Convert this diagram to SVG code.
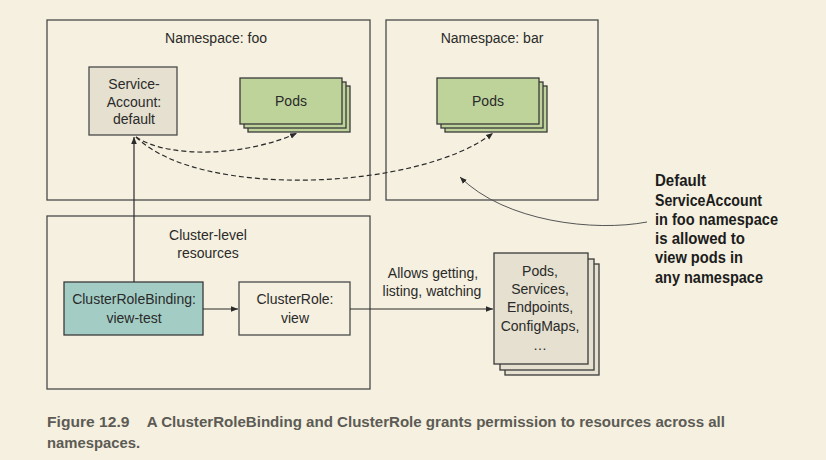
<svg xmlns="http://www.w3.org/2000/svg" width="826" height="460" viewBox="0 0 826 460">
<style>
  .bg { fill: #F5F0DF; }
  .frame { fill: none; stroke: #4a4a4a; stroke-width: 1.3; }
  .frame-fill { fill: #F5F0DF; stroke: #4a4a4a; stroke-width: 1.3; }
  .sa { fill: #E5E0CF; stroke: #4a4a4a; stroke-width: 1.3; }
  .pod { fill: #BDD39A; stroke: #3a3a3a; stroke-width: 1.3; }
  .res { fill: #E5E0CF; stroke: #3a3a3a; stroke-width: 1.3; }
  .crb { fill: #A3CDC4; stroke: #3a3a3a; stroke-width: 1.3; }
  .t { font-family: "Liberation Sans", Arial, sans-serif; font-size: 14px; fill: #2a2a2a; text-anchor: middle; }
  .ann { font-family: "Liberation Sans", Arial, sans-serif; font-size: 16px; font-weight: bold; fill: #1c1c1c; }
  .cap { font-family: "Liberation Sans", Arial, sans-serif; font-size: 14.5px; font-weight: bold; fill: #5c5b55; }
  .conn { fill: none; stroke: #2a2a2a; stroke-width: 1.2; }
  .dash { fill: none; stroke: #2a2a2a; stroke-width: 1.2; stroke-dasharray: 5 3; }
  .callout { fill: none; stroke: #555; stroke-width: 1; }
</style>
<defs>
  <marker id="ah" viewBox="0 0 10 10" refX="10" refY="5" markerWidth="7" markerHeight="7" markerUnits="userSpaceOnUse" orient="auto">
    <path d="M0,1 L10,5 L0,9 Z" fill="#2a2a2a"/>
  </marker>
</defs>
<rect class="bg" x="0" y="0" width="826" height="460"/>

<g id="ns-foo">
  <rect class="frame" x="47" y="20" width="323" height="180"/>
  <text class="t" x="216" y="43">Namespace: foo</text>
</g>
<g id="ns-bar">
  <rect class="frame" x="386" y="20" width="212" height="180"/>
  <text class="t" x="492" y="43">Namespace: bar</text>
</g>
<g id="cluster-level">
  <rect class="frame" x="47" y="216" width="323" height="173"/>
  <text class="t" x="208" y="240">Cluster-level</text>
  <text class="t" x="208" y="258">resources</text>
</g>

<g id="serviceaccount">
  <rect class="sa" x="89" y="67" width="88" height="68"/>
  <text class="t" x="134" y="89">Service-</text>
  <text class="t" x="134" y="107">Account:</text>
  <text class="t" x="134" y="124">default</text>
</g>

<g id="pods-foo">
  <rect class="pod" x="248" y="86" width="102" height="46"/>
  <rect class="pod" x="244" y="82" width="102" height="46"/>
  <rect class="pod" x="240" y="78" width="102" height="46"/>
  <text class="t" x="291" y="106">Pods</text>
</g>

<g id="pods-bar">
  <rect class="pod" x="445" y="86" width="102" height="46"/>
  <rect class="pod" x="441" y="82" width="102" height="46"/>
  <rect class="pod" x="437" y="78" width="102" height="46"/>
  <text class="t" x="488" y="106">Pods</text>
</g>

<g id="clusterrolebinding">
  <rect class="crb" x="64" y="282" width="139" height="53"/>
  <text class="t" x="134" y="304">ClusterRoleBinding:</text>
  <text class="t" x="134" y="323">view-test</text>
</g>

<g id="clusterrole">
  <rect class="frame-fill" x="239" y="282" width="111" height="53"/>
  <text class="t" x="295" y="304">ClusterRole:</text>
  <text class="t" x="295" y="323">view</text>
</g>

<g id="resources">
  <rect class="res" x="505" y="264" width="94" height="111"/>
  <rect class="res" x="500" y="259" width="94" height="111"/>
  <rect class="res" x="494" y="253" width="94" height="111"/>
  <text class="t" x="540" y="276">Pods,</text>
  <text class="t" x="540" y="294">Services,</text>
  <text class="t" x="540" y="312">Endpoints,</text>
  <text class="t" x="540" y="331">ConfigMaps,</text>
  <text class="t" x="540" y="350">…</text>
</g>

<g id="connectors">
  <path class="conn" d="M134,282 L134,137" marker-end="url(#ah)"/>
  <path class="conn" d="M203,309 L238,309" marker-end="url(#ah)"/>
  <path class="conn" d="M350,309 L493,309" marker-end="url(#ah)"/>
  <path class="dash" d="M136,137 C170,160 250,155 297,133" marker-end="url(#ah)"/>
  <path class="dash" d="M136,137 C200,200 420,190 493,133" marker-end="url(#ah)"/>
  <path class="callout" d="M647,222 C595,232 505,222 460,177" marker-end="url(#ah)"/>
  <text class="t" x="433" y="278">Allows getting,</text>
  <text class="t" x="432" y="296">listing, watching</text>
</g>

<g id="annotation">
  <text class="ann" x="655" y="186" textLength="51" lengthAdjust="spacingAndGlyphs">Default</text>
  <text class="ann" x="655" y="205.5" textLength="107" lengthAdjust="spacingAndGlyphs">ServiceAccount</text>
  <text class="ann" x="655" y="225" textLength="123" lengthAdjust="spacingAndGlyphs">in foo namespace</text>
  <text class="ann" x="655" y="244" textLength="90" lengthAdjust="spacingAndGlyphs">is allowed to</text>
  <text class="ann" x="655" y="263" textLength="88" lengthAdjust="spacingAndGlyphs">view pods in</text>
  <text class="ann" x="655" y="282.5" textLength="108" lengthAdjust="spacingAndGlyphs">any namespace</text>
</g>

<g id="caption">
  <text class="cap" x="47" y="427" textLength="82.5" lengthAdjust="spacingAndGlyphs">Figure 12.9</text>
  <text class="cap" x="146.7" y="427" textLength="578.3" lengthAdjust="spacingAndGlyphs">A ClusterRoleBinding and ClusterRole grants permission to resources across all</text>
  <text class="cap" x="47" y="447.5" textLength="93" lengthAdjust="spacingAndGlyphs">namespaces.</text>
</g>
</svg>
